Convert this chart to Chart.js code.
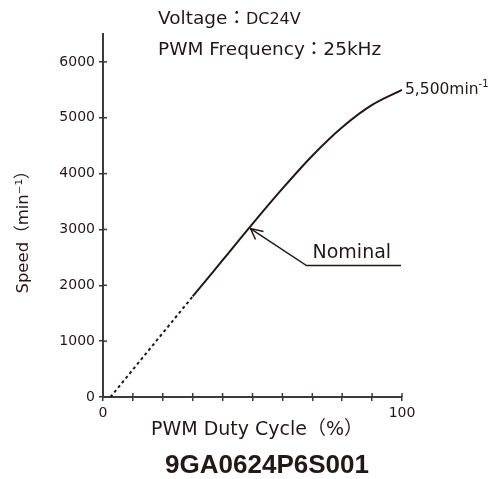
<!DOCTYPE html>
<html>
<head>
<meta charset="utf-8">
<script src="https://cdn.jsdelivr.net/npm/chart.js@4"></script>
<style>
  html, body { margin: 0; padding: 0; background: #fff; }
  #wrap { width: 500px; height: 479px; }
</style>
</head>
<body>
<div id="wrap"><canvas id="grafico" width="500" height="479"></canvas></div>
<script>
// values
const dutyCycle = [2.5, 30, 40, 50, 60, 70, 80, 90, 100];
const speed = [0, 1800, 2450, 3100, 3730, 4320, 4830, 5230, 5500];
const dottedUntil = 30;

const xTickValues = [0, 10, 20, 30, 40, 50, 60, 70, 80, 90, 100];
const xTickLabels = ['0', '', '', '', '', '', '', '', '', '', '100'];
const yTickValues = [0, 1000, 2000, 3000, 4000, 5000, 6000];

const nominalPoint = { x: 49, y: 3035 };
const endLabel = '5,500min';

const ink = '#231815';
const axisColor = '#3e3a39';
const fam = '"DejaVu Sans", "Noto Sans CJK JP", sans-serif';

const annotations = {
    id: 'annotations',
    afterDraw(chart) {
        const ctx = chart.ctx;
        const xs = chart.scales.x, ys = chart.scales.y;
        const area = chart.chartArea;
        ctx.save();

        // ticks crossing into the plot
        ctx.strokeStyle = axisColor;
        ctx.lineWidth = 1.5;
        xTickValues.forEach(v => {
            const px = xs.getPixelForValue(v);
            ctx.beginPath(); ctx.moveTo(px, area.bottom); ctx.lineTo(px, area.bottom - 4); ctx.stroke();
        });
        yTickValues.forEach(v => {
            const py = ys.getPixelForValue(v);
            ctx.beginPath(); ctx.moveTo(area.left, py); ctx.lineTo(area.left + 4, py); ctx.stroke();
        });

        ctx.fillStyle = ink;
        ctx.textBaseline = 'middle';

        // header
        ctx.textAlign = 'left';
        ctx.font = '18.5px ' + fam;
        ctx.fillText('Voltage：', 158, 19);
        let w = ctx.measureText('Voltage：').width;
        ctx.font = '16px ' + fam;
        ctx.fillText('DC24V', 158 + w, 20);
        ctx.font = '18.5px ' + fam;
        ctx.fillText('PWM Frequency：25kHz', 158, 50);

        // end value label
        const ex = xs.getPixelForValue(dutyCycle[dutyCycle.length - 1]);
        const ey = ys.getPixelForValue(speed[speed.length - 1]);
        ctx.font = '15.5px ' + fam;
        ctx.fillText(endLabel, ex + 3, ey);
        w = ctx.measureText(endLabel).width;
        ctx.font = '10px ' + fam;
        ctx.fillText('-1', ex + 3 + w, ey - 5);

        // nominal leader
        const nx = xs.getPixelForValue(nominalPoint.x);
        const ny = ys.getPixelForValue(nominalPoint.y);
        ctx.strokeStyle = ink;
        ctx.lineWidth = 1.5;
        ctx.beginPath();
        ctx.moveTo(area.right - 1, ny + 38);
        ctx.lineTo(nx + 57, ny + 38);
        ctx.lineTo(nx + 1, ny + 1);
        ctx.stroke();
        ctx.beginPath();
        ctx.moveTo(nx + 14, ny + 4);
        ctx.lineTo(nx + 1, ny + 1);
        ctx.lineTo(nx + 6, ny + 12);
        ctx.stroke();
        ctx.font = '19px ' + fam;
        ctx.textBaseline = 'alphabetic';
        ctx.fillText('Nominal', nx + 63, ny + 30);

        // axis titles
        ctx.textBaseline = 'middle';
        ctx.textAlign = 'center';
        ctx.font = '19px ' + fam;
        ctx.fillText('PWM Duty Cycle（%）', 257, 430);

        ctx.save();
        ctx.translate(24, 228);
        ctx.rotate(-Math.PI / 2);
        ctx.font = '16.5px ' + fam;
        ctx.fillText('Speed（min⁻¹）', 0, 0);
        ctx.restore();

        // model name
        ctx.font = 'bold 26px "Liberation Sans", Arial, sans-serif';
        ctx.fillText('9GA0624P6S001', 267, 466);

        ctx.restore();
    }
};

new Chart(document.getElementById('grafico').getContext('2d'), {
    type: 'line',
    data: {
        datasets: [{
            data: dutyCycle.map((x, i) => ({ x: x, y: speed[i] })),
            borderColor: ink,
            borderWidth: 2,
            pointRadius: 0,
            cubicInterpolationMode: 'monotone',
            segment: {
                borderDash: c => c.p1.parsed.x <= dottedUntil ? [3, 3] : undefined
            }
        }]
    },
    options: {
        responsive: false,
        animation: false,
        layout: { padding: { top: 34, right: 98, left: 0, bottom: 0 } },
        plugins: { legend: { display: false }, tooltip: { enabled: false } },
        scales: {
            x: {
                type: 'linear',
                min: 0,
                max: 100,
                afterFit: s => { s.height = 82; },
                afterBuildTicks: s => { s.ticks = xTickValues.map(v => ({ value: v })); },
                ticks: {
                    padding: 4,
                    color: ink,
                    font: { family: fam, size: 14 },
                    maxRotation: 0,
                    autoSkip: false,
                    callback: (v, i) => xTickLabels[i]
                },
                grid: { drawOnChartArea: false, tickLength: 4, color: axisColor, lineWidth: 1.5 },
                border: { color: axisColor, width: 2 }
            },
            y: {
                min: 0,
                max: 6500,
                afterFit: s => { s.width = 103; },
                afterBuildTicks: s => { s.ticks = yTickValues.map(v => ({ value: v })); },
                ticks: {
                    padding: 4,
                    color: ink,
                    font: { family: fam, size: 14 },
                    autoSkip: false,
                    callback: v => String(v)
                },
                grid: { drawOnChartArea: false, tickLength: 4, color: axisColor, lineWidth: 1.5 },
                border: { color: axisColor, width: 2 }
            }
        }
    },
    plugins: [annotations]
});
</script>
</body>
</html>
